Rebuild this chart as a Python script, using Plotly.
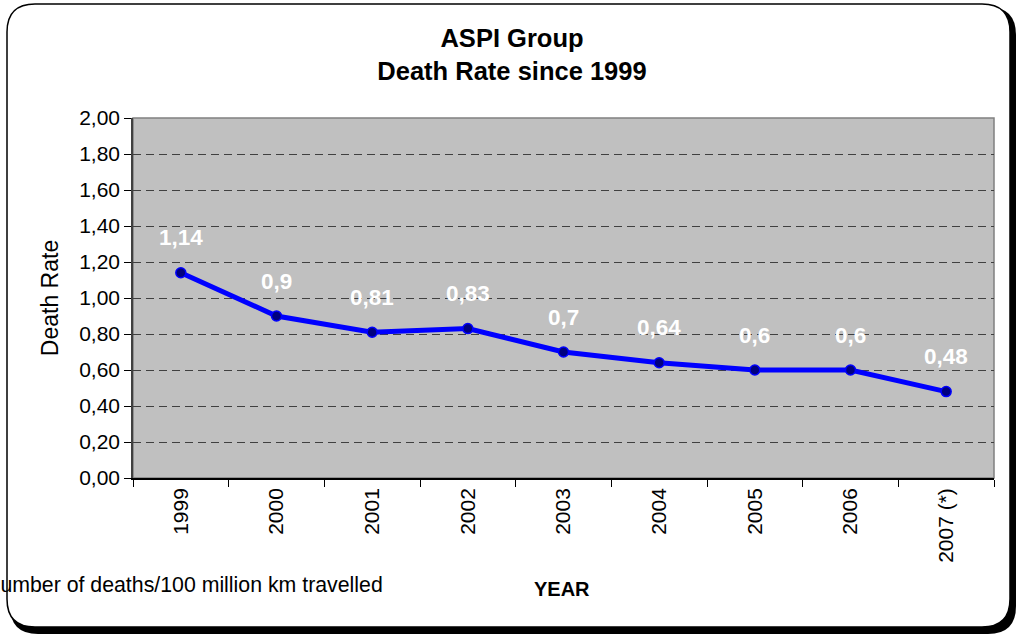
import plotly.graph_objects as go

years = ["1999", "2000", "2001", "2002", "2003", "2004", "2005", "2006", "2007 (*)"]
death_rate = [1.14, 0.9, 0.81, 0.83, 0.7, 0.64, 0.6, 0.6, 0.48]
labels = [str(v).replace(".", ",") for v in death_rate]
y_ticks = [0.0, 0.2, 0.4, 0.6, 0.8, 1.0, 1.2, 1.4, 1.6, 1.8, 2.0]

W, H = 1018, 637
L, R, T, B = 133, 994, 118, 478  # plot area in pixels

def px(x):
    return (x - L) / (R - L)

def py(y):
    return (B - y) / (B - T)

def rrect(x0, y0, x1, y1, r):
    return (f"M {px(x0 + r)},{py(y0)} L {px(x1 - r)},{py(y0)} "
            f"Q {px(x1)},{py(y0)} {px(x1)},{py(y0 + r)} "
            f"L {px(x1)},{py(y1 - r)} Q {px(x1)},{py(y1)} {px(x1 - r)},{py(y1)} "
            f"L {px(x0 + r)},{py(y1)} Q {px(x0)},{py(y1)} {px(x0)},{py(y1 - r)} "
            f"L {px(x0)},{py(y0 + r)} Q {px(x0)},{py(y0)} {px(x0 + r)},{py(y0)} Z")

FONT = "Liberation Sans, Arial, sans-serif"

fig = go.Figure()
fig.add_trace(go.Scatter(
    x=years, y=death_rate, mode="lines+markers",
    line=dict(color="#0000FF", width=5),
    marker=dict(size=10, color="#000080", line=dict(color="#0000FF", width=1.5)),
    showlegend=False, hoverinfo="skip",
))

shapes = [
    dict(type="path", xref="paper", yref="paper", path=rrect(10, 7, 1016, 634, 28),
         fillcolor="black", line=dict(width=0), layer="below"),
    dict(type="path", xref="paper", yref="paper", path=rrect(7, 4, 1010, 627, 28),
         fillcolor="white", line=dict(color="black", width=1.5), layer="below"),
    dict(type="rect", xref="x domain", yref="y domain", x0=0, x1=1, y0=0, y1=1,
         fillcolor="#C0C0C0", line=dict(color="#808080", width=1.5), layer="below"),
]

annotations = []
for i, (v, lab) in enumerate(zip(death_rate, labels)):
    annotations.append(dict(x=i, y=v, xref="x", yref="y", text=f"<b>{lab}</b>",
                            showarrow=False, yshift=35,
                            font=dict(family=FONT, size=22.5, color="white")))
annotations.append(dict(x=px(562), y=py(589), xref="paper", yref="paper",
                        xanchor="center", yanchor="middle",
                        text="<b>YEAR</b>", showarrow=False,
                        font=dict(family=FONT, size=20, color="black")))
annotations.append(dict(x=px(-17), y=py(585), xref="paper", yref="paper",
                        xanchor="left", yanchor="middle",
                        text="Number of deaths/100 million km travelled",
                        showarrow=False, font=dict(family=FONT, size=21.3, color="black")))

fig.update_layout(
    width=W, height=H,
    margin=dict(l=L, r=W - R, t=T, b=H - B),
    paper_bgcolor="white", plot_bgcolor="#C0C0C0",
    separators=",.",
    font=dict(family=FONT, color="black"),
    title=dict(text="<b>ASPI Group<br>Death Rate since 1999</b>",
               x=px(512), xref="paper", y=1 - 47 / H, yref="container",
               xanchor="center", yanchor="middle",
               font=dict(family=FONT, size=25.5, color="black")),
    shapes=shapes, annotations=annotations,
)
fig.update_xaxes(
    type="category", showgrid=False, tickson="boundaries",
    ticks="outside", ticklen=7, tickcolor="black", tickwidth=1,
    tickangle=-90, tickfont=dict(family=FONT, size=21, color="black"),
    showline=True, linecolor="black", linewidth=1.5,
    range=[-0.5, len(years) - 0.5],
)
fig.update_yaxes(
    range=[0, 2], tickvals=y_ticks, tickformat=".2f",
    showgrid=True, gridcolor="#404040", gridwidth=1, griddash="8px,5px",
    ticks="outside", ticklen=7, tickcolor="black", tickwidth=1,
    tickfont=dict(family=FONT, size=21, color="black"),
    showline=True, linecolor="#404040", linewidth=1.5,
    title=dict(text="Death Rate", standoff=14, font=dict(family=FONT, size=23, color="black")),
    zeroline=False,
)

fig.write_html("out.html", config={"displayModeBar": False},
               post_script="document.body.style.margin='0';document.body.style.overflow='hidden';")
